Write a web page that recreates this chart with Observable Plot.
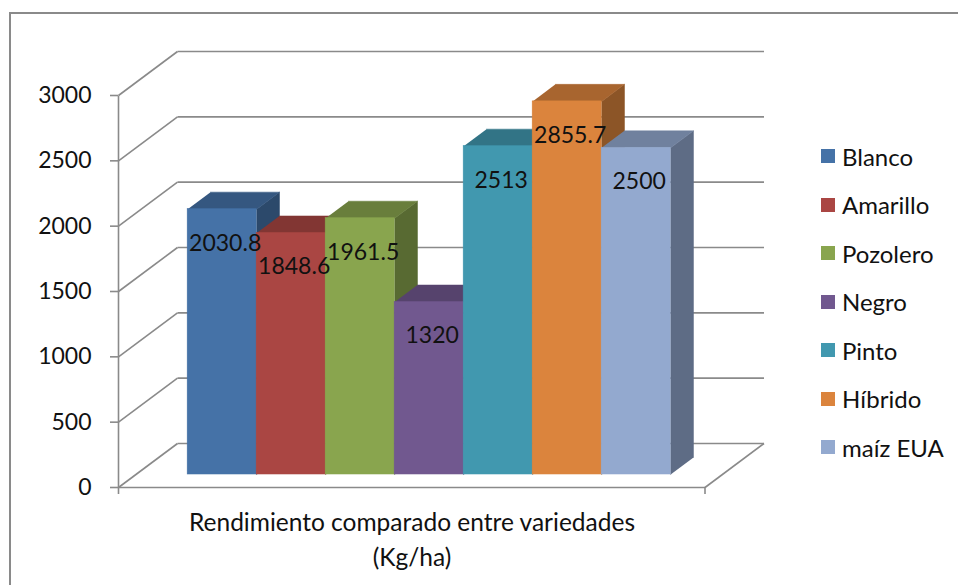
<!DOCTYPE html>
<html>
<head>
<meta charset="utf-8">
<script src="https://cdn.jsdelivr.net/npm/d3@7"></script>
<script src="https://cdn.jsdelivr.net/npm/@observablehq/plot@0.6"></script>
<style>
  body { margin: 0; background: #fff; }
  #wrap { position: relative; width: 958px; height: 585px; overflow: hidden; font-family: Lato, "Open Sans", sans-serif; color: #111; }
  #chart { position: absolute; left: 0; top: 0; }
  #border { position: absolute; left: 9px; top: 12px; width: 1100px; height: 1100px; border-left: 2.5px solid #8a8a8a; border-top: 2.5px solid #8a8a8a; pointer-events: none; }
  #legend { position: absolute; left: 821px; top: 132px; }
  .row { height: 48.5px; display: flex; align-items: center; font-size: 24px; }
  .sw { width: 14px; height: 14px; margin-right: 7px; }
  #xtitle { position: absolute; left: 0; width: 824px; top: 504px; text-align: center; font-size: 24.5px; line-height: 35px; }
</style>
</head>
<body>
<div id="wrap">
  <div id="chart"></div>
  <div id="border"></div>
  <div id="legend"></div>
  <div id="xtitle"></div>
</div>
<script>
// ---- data ----
const categories = ["Blanco", "Amarillo", "Pozolero", "Negro", "Pinto", "Híbrido", "maíz EUA"];
const values = [2030.8, 1848.6, 1961.5, 1320, 2513, 2855.7, 2500];
const valueLabels = ["2030.8", "1848.6", "1961.5", "1320", "2513", "2855.7", "2500"];
const colors = ["#4572A7", "#AA4643", "#89A54E", "#71588F", "#4198AF", "#DB843D", "#93A9CF"];
const yTicks = [0, 500, 1000, 1500, 2000, 2500, 3000];
const yTickLabels = ["0", "500", "1000", "1500", "2000", "2500", "3000"];
const axisTitle = ["Rendimiento comparado entre variedades", "(Kg/ha)"];

// ---- 3D geometry (in data units) ----
const SLOTS = 8.5, GAP = 0.75;
const DX = 59 / 69, DY = 336.7;      // full depth offset
const D0 = 0.295, D1 = 0.682;        // bar depth range
const P = (x, v, d) => ({x: x + d * DX, y: v + d * DY});

const bars = categories.map((c, i) => ({
  c, v: values[i], label: valueLabels[i], color: colors[i], x0: GAP + i, x1: GAP + i + 1
}));

const gridCol = "#8a8a8a";
const back = yTicks.map(t => ({a: P(0, t, 1), b: P(SLOTS, t, 1)}));
const wall = yTicks.map(t => ({a: P(0, t, 0), b: P(0, t, 1)}));
const floor = [
  {a: P(0, 0, 0), b: P(SLOTS, 0, 0)},
  {a: P(SLOTS, 0, 0), b: P(SLOTS, 0, 1)},
  {a: P(0, 0, 0), b: P(0, 3000, 0)}
];
const linkOpts = {x1: d => d.a.x, y1: d => d.a.y, x2: d => d.b.x, y2: d => d.b.y, stroke: gridCol, strokeWidth: 1.6};

const marks = [
  Plot.link(back, linkOpts),
  Plot.link(wall, linkOpts),
  Plot.link(floor, linkOpts),
  Plot.axisY({ticks: yTicks, tickSize: 8, tickFormat: () => "", stroke: gridCol, strokeWidth: 1.6, label: null}),
  Plot.axisY({ticks: yTicks, tickSize: 0, tickPadding: 27, fontSize: 23, fill: "#111", label: null,
              tickFormat: d => yTickLabels[yTicks.indexOf(d)]}),
  Plot.axisX({ticks: [0, SLOTS], tickSize: 7, tickFormat: () => "", stroke: gridCol, strokeWidth: 1.6, label: null})
];

for (const b of bars) {
  const c = d3.color(b.color);
  const topCol = c.darker(0.75).formatHex();
  const sideCol = c.darker(1.25).formatHex();
  const side = [P(b.x1, 0, D0), P(b.x1, b.v, D0), P(b.x1, b.v, D1), P(b.x1, 0, D1)];
  const top = [P(b.x0, b.v, D0), P(b.x1, b.v, D0), P(b.x1, b.v, D1), P(b.x0, b.v, D1)];
  marks.push(Plot.line(side, {x: "x", y: "y", fill: sideCol, stroke: sideCol, strokeWidth: 0.5}));
  marks.push(Plot.line(top, {x: "x", y: "y", fill: topCol, stroke: topCol, strokeWidth: 0.5}));
  marks.push(Plot.rect([b], {
    x1: d => d.x0 + D0 * DX, x2: d => d.x1 + D0 * DX,
    y1: d => D0 * DY, y2: d => d.v + D0 * DY,
    fill: b.color, stroke: b.color, strokeWidth: 0.5
  }));
}

marks.push(Plot.text(bars, {
  x: d => (d.x0 + d.x1) / 2 + D0 * DX,
  y: d => d.v + D0 * DY,
  text: d => d.label,
  dx: 3, dy: 34, fontSize: 23, fill: "#111"
}));

const chart = Plot.plot({
  width: 958, height: 585,
  marginLeft: 118, marginRight: 958 - 118 - 586.5, marginTop: 95, marginBottom: 98,
  x: {domain: [0, SLOTS]},
  y: {domain: [0, 3000]},
  style: {fontFamily: "Lato, 'Open Sans', sans-serif", background: "transparent", overflow: "visible"},
  marks
});
document.getElementById("chart").appendChild(chart);

// legend
const lg = document.getElementById("legend");
categories.forEach((c, i) => {
  const row = document.createElement("div");
  row.className = "row";
  const sw = document.createElement("div");
  sw.className = "sw";
  sw.style.background = colors[i];
  const t = document.createElement("span");
  t.textContent = c;
  row.appendChild(sw); row.appendChild(t);
  lg.appendChild(row);
});

// axis title
const xt = document.getElementById("xtitle");
axisTitle.forEach(s => { const d = document.createElement("div"); d.textContent = s; xt.appendChild(d); });
</script>
</body>
</html>
